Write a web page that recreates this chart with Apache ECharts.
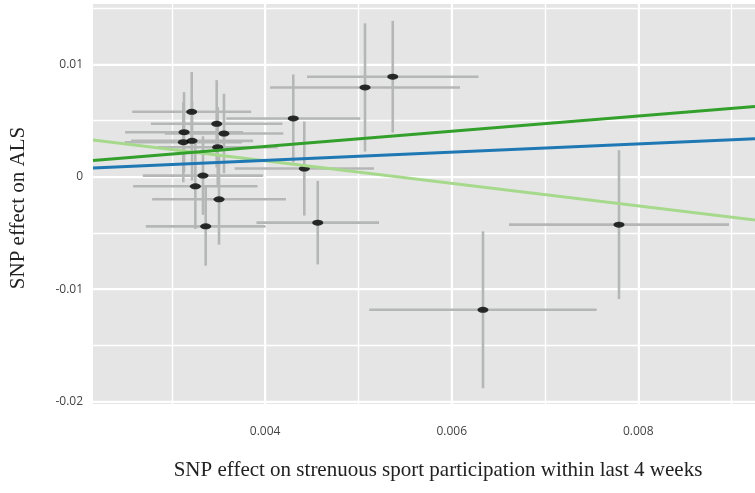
<!DOCTYPE html>
<html>
<head>
<meta charset="utf-8">
<script src="https://cdn.jsdelivr.net/npm/echarts@6/dist/echarts.min.js"></script>
<style>html,body{margin:0;padding:0;background:#fff}#chart{width:755px;height:493px}</style>
</head>
<body>
<div id="chart"></div>
<script>
// SNP effects on exposure (x) and outcome (y), with error-bar half widths
const exposureBeta = [0.003213,0.003481,0.003131,0.003559,0.003123,0.003217,0.003492,0.004302,0.005071,0.005368,0.004420,0.003334,0.003252,0.003506,0.003363,0.004564,0.006335,0.007793];
const exposureHalf = [0.000638,0.000705,0.000632,0.000636,0.000629,0.000654,0.000643,0.000718,0.001018,0.000919,0.000747,0.000645,0.000667,0.000717,0.000642,0.000657,0.001219,0.001179];
const outcomeBeta  = [0.005798,0.004728,0.003979,0.003863,0.003087,0.003211,0.002641,0.005201,0.007966,0.008921,0.000740,0.000116,-0.000839,-0.001998,-0.004407,-0.004077,-0.011838,-0.004255];
const outcomeHalf  = [0.003533,0.003889,0.003568,0.003541,0.003568,0.003541,0.003568,0.003925,0.005709,0.004978,0.004184,0.003497,0.003800,0.004041,0.003506,0.003720,0.006985,0.006628];

// MR fit lines: intercept and slope
const fitNames      = ['MR Egger', 'Inverse variance weighted', 'Weighted median'];
const fitIntercepts = [0.005455, 0, 0];
const fitSlopes     = [-1.006, 0.367, 0.677];
const fitColors     = ['#a6d98c', '#1f78b4', '#33a02c'];

// axis ranges and tick labels
const xRange = [0.002155, 0.009251];
const yRange = [-0.020229, 0.015398];
const xTickValues = [0.004, 0.006, 0.008];
const xTickLabels = ['0.004', '0.006', '0.008'];
const yTickValues = [-0.02, -0.01, 0, 0.01];
const yTickLabels = ['-0.02', '-0.01', '0', '0.01'];

function lookup(vals, labels) {
  return function (v) {
    for (let i = 0; i < vals.length; i++) if (Math.abs(v - vals[i]) < 1e-9) return labels[i];
    return '';
  };
}

const chart = echarts.init(document.getElementById('chart'), null, {renderer: 'canvas'});
const pts = exposureBeta.map((x, i) => [x, outcomeBeta[i], exposureHalf[i], outcomeHalf[i]]);
const barColor = '#b5b7b7';

const fitSeries = fitNames.map((n, k) => ({
  name: n, type: 'line', xAxisIndex: 0, yAxisIndex: 0,
  data: [[xRange[0], fitIntercepts[k] + fitSlopes[k] * xRange[0]], [xRange[1], fitIntercepts[k] + fitSlopes[k] * xRange[1]]],
  showSymbol: false, symbol: 'none', clip: true, z: 5,
  lineStyle: {color: fitColors[k], width: 3}, silent: true
}));

const labelStyle = {color: '#444', fontFamily: 'Open Sans', fontSize: 12};
chart.setOption({
  animation: false,
  grid: {left: 93, right: 0, top: 4, bottom: 89, show: true, backgroundColor: '#e5e5e5', borderWidth: 0},
  xAxis: [
    {type: 'value', min: xRange[0], max: xRange[1], splitNumber: 7, minInterval: 0.001, maxInterval: 0.001,
     axisLine: {show: false}, axisTick: {show: false}, axisLabel: {show: false},
     splitLine: {show: true, showMinLine: false, showMaxLine: false, lineStyle: {color: '#fff', width: 1.4}}},
    {type: 'value', min: xRange[0], max: xRange[1], splitNumber: 4, minInterval: 0.002, maxInterval: 0.002,
     position: 'bottom',
     axisLine: {show: false}, axisTick: {show: false},
     axisLabel: Object.assign({margin: 22, formatter: lookup(xTickValues, xTickLabels), showMinLabel: false, showMaxLabel: false}, labelStyle),
     splitLine: {show: true, showMinLine: false, showMaxLine: false, lineStyle: {color: '#fff', width: 2}}}
  ],
  yAxis: [
    {type: 'value', min: yRange[0], max: yRange[1], splitNumber: 7, minInterval: 0.005, maxInterval: 0.005,
     axisLine: {show: false}, axisTick: {show: false}, axisLabel: {show: false},
     splitLine: {show: true, showMinLine: false, showMaxLine: false, lineStyle: {color: '#fff', width: 1.4}}},
    {type: 'value', min: yRange[0], max: yRange[1], splitNumber: 4, minInterval: 0.01, maxInterval: 0.01,
     position: 'left',
     axisLine: {show: false}, axisTick: {show: false},
     axisLabel: Object.assign({margin: 10, formatter: lookup(yTickValues, yTickLabels), showMinLabel: false, showMaxLabel: false}, labelStyle),
     splitLine: {show: true, showMinLine: false, showMaxLine: false, lineStyle: {color: '#fff', width: 2}}}
  ],
  series: [
    {type: 'custom', xAxisIndex: 0, yAxisIndex: 0, data: pts, clip: true, z: 3, silent: true,
     renderItem: function (params, api) {
       const x = api.value(0), y = api.value(1), xh = api.value(2), yh = api.value(3);
       const t = api.coord([x, y + yh]), b = api.coord([x, y - yh]);
       const l = api.coord([x - xh, y]), r = api.coord([x + xh, y]);
       return {type: 'group', children: [
         {type: 'line', shape: {x1: t[0], y1: t[1], x2: b[0], y2: b[1]}, style: {stroke: barColor, lineWidth: 2.6}},
         {type: 'line', shape: {x1: l[0], y1: l[1], x2: r[0], y2: r[1]}, style: {stroke: barColor, lineWidth: 2.6}}
       ]};
     }},
    {type: 'scatter', xAxisIndex: 0, yAxisIndex: 0, data: pts.map(p => [p[0], p[1]]), symbol: 'circle',
     symbolSize: [11, 6], itemStyle: {color: '#000'}, z: 4, silent: true}
  ].concat(fitSeries),
  graphic: [
    {type: 'text', x: 438, y: 470, style: {text: 'SNP effect on strenuous sport participation within last 4 weeks',
      font: '21px "Liberation Serif"', fill: '#222', textAlign: 'center', textVerticalAlign: 'middle'}},
    {type: 'text', x: 18, y: 208, rotation: Math.PI / 2, style: {text: 'SNP effect on ALS',
      font: '21px "Liberation Serif"', fill: '#222', textAlign: 'center', textVerticalAlign: 'middle'}}
  ]
});
</script>
</body>
</html>
